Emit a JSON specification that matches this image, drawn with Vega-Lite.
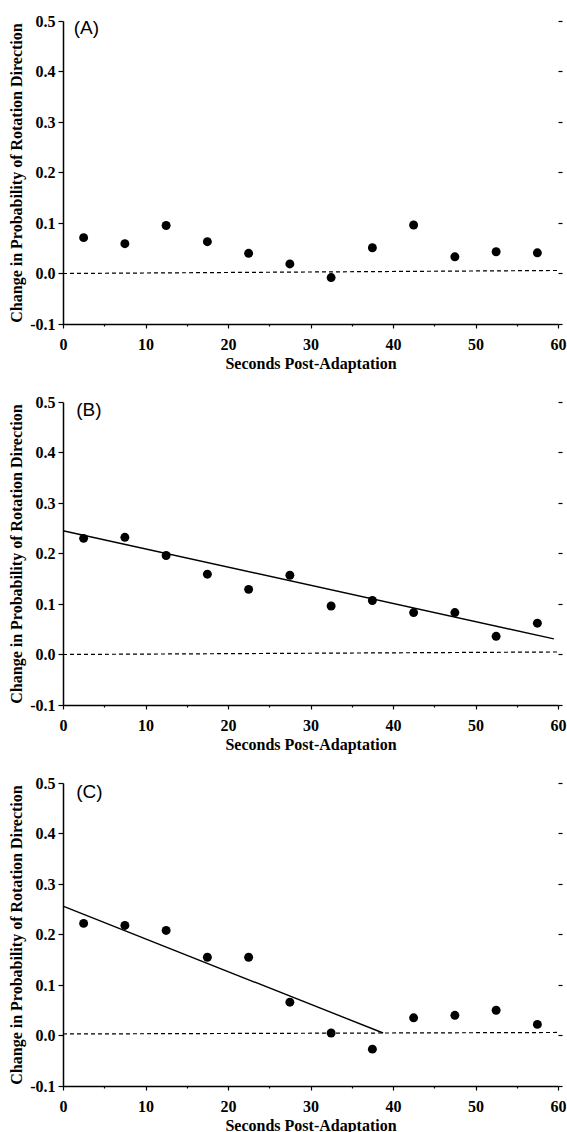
{
  "$schema": "https://vega.github.io/schema/vega-lite/v6.json",
  "background": "white",
  "padding": {"left": 8, "top": 13, "right": 2, "bottom": 2},
  "bounds": "flush",
  "spacing": 78,
  "datasets": {
    "points": [
      {"panel": "A", "t": 2.5, "v": 0.071},
      {"panel": "A", "t": 7.5, "v": 0.059},
      {"panel": "A", "t": 12.5, "v": 0.095},
      {"panel": "A", "t": 17.5, "v": 0.063},
      {"panel": "A", "t": 22.5, "v": 0.040},
      {"panel": "A", "t": 27.5, "v": 0.019},
      {"panel": "A", "t": 32.5, "v": -0.008},
      {"panel": "A", "t": 37.5, "v": 0.051},
      {"panel": "A", "t": 42.5, "v": 0.096},
      {"panel": "A", "t": 47.5, "v": 0.033},
      {"panel": "A", "t": 52.5, "v": 0.043},
      {"panel": "A", "t": 57.5, "v": 0.041},
      {"panel": "B", "t": 2.5, "v": 0.230},
      {"panel": "B", "t": 7.5, "v": 0.232},
      {"panel": "B", "t": 12.5, "v": 0.196},
      {"panel": "B", "t": 17.5, "v": 0.159},
      {"panel": "B", "t": 22.5, "v": 0.129},
      {"panel": "B", "t": 27.5, "v": 0.157},
      {"panel": "B", "t": 32.5, "v": 0.096},
      {"panel": "B", "t": 37.5, "v": 0.107},
      {"panel": "B", "t": 42.5, "v": 0.083},
      {"panel": "B", "t": 47.5, "v": 0.083},
      {"panel": "B", "t": 52.5, "v": 0.036},
      {"panel": "B", "t": 57.5, "v": 0.062},
      {"panel": "C", "t": 2.5, "v": 0.222},
      {"panel": "C", "t": 7.5, "v": 0.218},
      {"panel": "C", "t": 12.5, "v": 0.208},
      {"panel": "C", "t": 17.5, "v": 0.155},
      {"panel": "C", "t": 22.5, "v": 0.155},
      {"panel": "C", "t": 27.5, "v": 0.066},
      {"panel": "C", "t": 32.5, "v": 0.005},
      {"panel": "C", "t": 37.5, "v": -0.027},
      {"panel": "C", "t": 42.5, "v": 0.035},
      {"panel": "C", "t": 47.5, "v": 0.040},
      {"panel": "C", "t": 52.5, "v": 0.050},
      {"panel": "C", "t": 57.5, "v": 0.022}
    ],
    "fits": [
      {"panel": "B", "t": 0, "v": 0.245},
      {"panel": "B", "t": 59.5, "v": 0.031},
      {"panel": "C", "t": 0, "v": 0.256},
      {"panel": "C", "t": 38.8, "v": 0.005}
    ],
    "baseline": [
      {"panel": "A", "t": 0, "v": 0.0},
      {"panel": "A", "t": 60, "v": 0.006},
      {"panel": "B", "t": 0, "v": 0.0},
      {"panel": "B", "t": 60, "v": 0.005},
      {"panel": "C", "t": 0, "v": 0.003},
      {"panel": "C", "t": 60, "v": 0.006}
    ],
    "labels": [
      {"panel": "A", "label": "(A)"},
      {"panel": "B", "label": "(B)"},
      {"panel": "C", "label": "(C)"}
    ],
    "ticks": [
      {"v": -0.1}, {"v": 0.0}, {"v": 0.1}, {"v": 0.2}, {"v": 0.3}, {"v": 0.4}, {"v": 0.5}
    ]
  },
  "config": {
    "view": {"stroke": null},
    "axis": {
      "grid": false,
      "labelFont": "Liberation Serif",
      "labelFontWeight": "bold",
      "labelFontSize": 16,
      "labelColor": "black",
      "titleFont": "Liberation Serif",
      "titleFontWeight": "bold",
      "titleFontSize": 16,
      "titleColor": "black",
      "domainColor": "black",
      "domainWidth": 1.5,
      "tickColor": "black",
      "tickWidth": 1.2
    }
  },
  "vconcat": [
    {
      "width": 495, "height": 303,
      "resolve": {"scale": {"y": "independent"}},
      "layer": [
        {
          "layer": [
            {
              "data": {"name": "baseline"},
              "transform": [{"filter": "datum.panel === 'A'"}],
              "mark": {"type": "line", "color": "black", "strokeWidth": 1.2, "strokeDash": [4, 3]},
              "encoding": {
                "x": {"field": "t", "type": "quantitative", "scale": {"domain": [0, 60], "nice": false},
                  "axis": {"title": "Seconds Post-Adaptation", "values": [0,5,10,15,20,25,30,35,40,45,50,55,60],
                    "labelExpr": "datum.value % 10 === 0 ? datum.label : ''",
                    "tickSize": {"condition": {"test": "datum.value % 10 === 0", "value": 4}, "value": 2},
                    "labelOverlap": false, "labelFlush": false, "labelPadding": 8, "titlePadding": 3}},
                "y": {"field": "v", "type": "quantitative", "scale": {"domain": [-0.1, 0.5], "nice": false, "zero": false},
                  "axis": {"title": "Change in Probability of Rotation Direction", "values": [-0.1,0,0.1,0.2,0.3,0.4,0.5],
                    "format": ".1f", "labelExpr": "replace(datum.label, '\u2212', '-')",
                    "tickSize": 5, "labelPadding": 3, "titlePadding": 5}}
              }
            },
            {
              "data": {"name": "points"},
              "transform": [{"filter": "datum.panel === 'A'"}],
              "mark": {"type": "point", "filled": true, "color": "black", "opacity": 1, "size": 80},
              "encoding": {
                "x": {"field": "t", "type": "quantitative"},
                "y": {"field": "v", "type": "quantitative"}
              }
            },
            {
              "data": {"name": "labels"},
              "transform": [{"filter": "datum.panel === 'A'"}],
              "mark": {"type": "text", "font": "Liberation Sans", "fontSize": 19, "align": "left", "baseline": "middle", "color": "black"},
              "encoding": {
                "x": {"datum": 1.3},
                "y": {"datum": 0.487},
                "text": {"field": "label"}
              }
            }
          ]
        },
        {
          "data": {"name": "ticks"},
          "mark": {"type": "point", "opacity": 0},
          "encoding": {
            "y": {"field": "v", "type": "quantitative", "scale": {"domain": [-0.1, 0.5], "nice": false, "zero": false},
              "axis": {"orient": "right", "title": null, "domain": false, "labels": false, "tickSize": 4, "values": [-0.1,0,0.1,0.2,0.3,0.4,0.5]}}
          }
        }
      ]
    },
    {
      "width": 495, "height": 303,
      "resolve": {"scale": {"y": "independent"}},
      "layer": [
        {
          "layer": [
            {
              "data": {"name": "baseline"},
              "transform": [{"filter": "datum.panel === 'B'"}],
              "mark": {"type": "line", "color": "black", "strokeWidth": 1.2, "strokeDash": [4, 3]},
              "encoding": {
                "x": {"field": "t", "type": "quantitative", "scale": {"domain": [0, 60], "nice": false},
                  "axis": {"title": "Seconds Post-Adaptation", "values": [0,5,10,15,20,25,30,35,40,45,50,55,60],
                    "labelExpr": "datum.value % 10 === 0 ? datum.label : ''",
                    "tickSize": {"condition": {"test": "datum.value % 10 === 0", "value": 4}, "value": 2},
                    "labelOverlap": false, "labelFlush": false, "labelPadding": 8, "titlePadding": 3}},
                "y": {"field": "v", "type": "quantitative", "scale": {"domain": [-0.1, 0.5], "nice": false, "zero": false},
                  "axis": {"title": "Change in Probability of Rotation Direction", "values": [-0.1,0,0.1,0.2,0.3,0.4,0.5],
                    "format": ".1f", "labelExpr": "replace(datum.label, '\u2212', '-')",
                    "tickSize": 5, "labelPadding": 3, "titlePadding": 5}}
              }
            },
            {
              "data": {"name": "fits"},
              "transform": [{"filter": "datum.panel === 'B'"}],
              "mark": {"type": "line", "color": "black", "strokeWidth": 1.4},
              "encoding": {
                "x": {"field": "t", "type": "quantitative"},
                "y": {"field": "v", "type": "quantitative"}
              }
            },
            {
              "data": {"name": "points"},
              "transform": [{"filter": "datum.panel === 'B'"}],
              "mark": {"type": "point", "filled": true, "color": "black", "opacity": 1, "size": 80},
              "encoding": {
                "x": {"field": "t", "type": "quantitative"},
                "y": {"field": "v", "type": "quantitative"}
              }
            },
            {
              "data": {"name": "labels"},
              "transform": [{"filter": "datum.panel === 'B'"}],
              "mark": {"type": "text", "font": "Liberation Sans", "fontSize": 19, "align": "left", "baseline": "middle", "color": "black"},
              "encoding": {
                "x": {"datum": 1.6},
                "y": {"datum": 0.484},
                "text": {"field": "label"}
              }
            }
          ]
        },
        {
          "data": {"name": "ticks"},
          "mark": {"type": "point", "opacity": 0},
          "encoding": {
            "y": {"field": "v", "type": "quantitative", "scale": {"domain": [-0.1, 0.5], "nice": false, "zero": false},
              "axis": {"orient": "right", "title": null, "domain": false, "labels": false, "tickSize": 4, "values": [-0.1,0,0.1,0.2,0.3,0.4,0.5]}}
          }
        }
      ]
    },
    {
      "width": 495, "height": 303,
      "resolve": {"scale": {"y": "independent"}},
      "layer": [
        {
          "layer": [
            {
              "data": {"name": "baseline"},
              "transform": [{"filter": "datum.panel === 'C'"}],
              "mark": {"type": "line", "color": "black", "strokeWidth": 1.2, "strokeDash": [4, 3]},
              "encoding": {
                "x": {"field": "t", "type": "quantitative", "scale": {"domain": [0, 60], "nice": false},
                  "axis": {"title": "Seconds Post-Adaptation", "values": [0,5,10,15,20,25,30,35,40,45,50,55,60],
                    "labelExpr": "datum.value % 10 === 0 ? datum.label : ''",
                    "tickSize": {"condition": {"test": "datum.value % 10 === 0", "value": 4}, "value": 2},
                    "labelOverlap": false, "labelFlush": false, "labelPadding": 8, "titlePadding": 3}},
                "y": {"field": "v", "type": "quantitative", "scale": {"domain": [-0.1, 0.5], "nice": false, "zero": false},
                  "axis": {"title": "Change in Probability of Rotation Direction", "values": [-0.1,0,0.1,0.2,0.3,0.4,0.5],
                    "format": ".1f", "labelExpr": "replace(datum.label, '\u2212', '-')",
                    "tickSize": 5, "labelPadding": 3, "titlePadding": 5}}
              }
            },
            {
              "data": {"name": "fits"},
              "transform": [{"filter": "datum.panel === 'C'"}],
              "mark": {"type": "line", "color": "black", "strokeWidth": 1.4},
              "encoding": {
                "x": {"field": "t", "type": "quantitative"},
                "y": {"field": "v", "type": "quantitative"}
              }
            },
            {
              "data": {"name": "points"},
              "transform": [{"filter": "datum.panel === 'C'"}],
              "mark": {"type": "point", "filled": true, "color": "black", "opacity": 1, "size": 80},
              "encoding": {
                "x": {"field": "t", "type": "quantitative"},
                "y": {"field": "v", "type": "quantitative"}
              }
            },
            {
              "data": {"name": "labels"},
              "transform": [{"filter": "datum.panel === 'C'"}],
              "mark": {"type": "text", "font": "Liberation Sans", "fontSize": 19, "align": "left", "baseline": "middle", "color": "black"},
              "encoding": {
                "x": {"datum": 1.6},
                "y": {"datum": 0.482},
                "text": {"field": "label"}
              }
            }
          ]
        },
        {
          "data": {"name": "ticks"},
          "mark": {"type": "point", "opacity": 0},
          "encoding": {
            "y": {"field": "v", "type": "quantitative", "scale": {"domain": [-0.1, 0.5], "nice": false, "zero": false},
              "axis": {"orient": "right", "title": null, "domain": false, "labels": false, "tickSize": 4, "values": [-0.1,0,0.1,0.2,0.3,0.4,0.5]}}
          }
        }
      ]
    }
  ]
}
